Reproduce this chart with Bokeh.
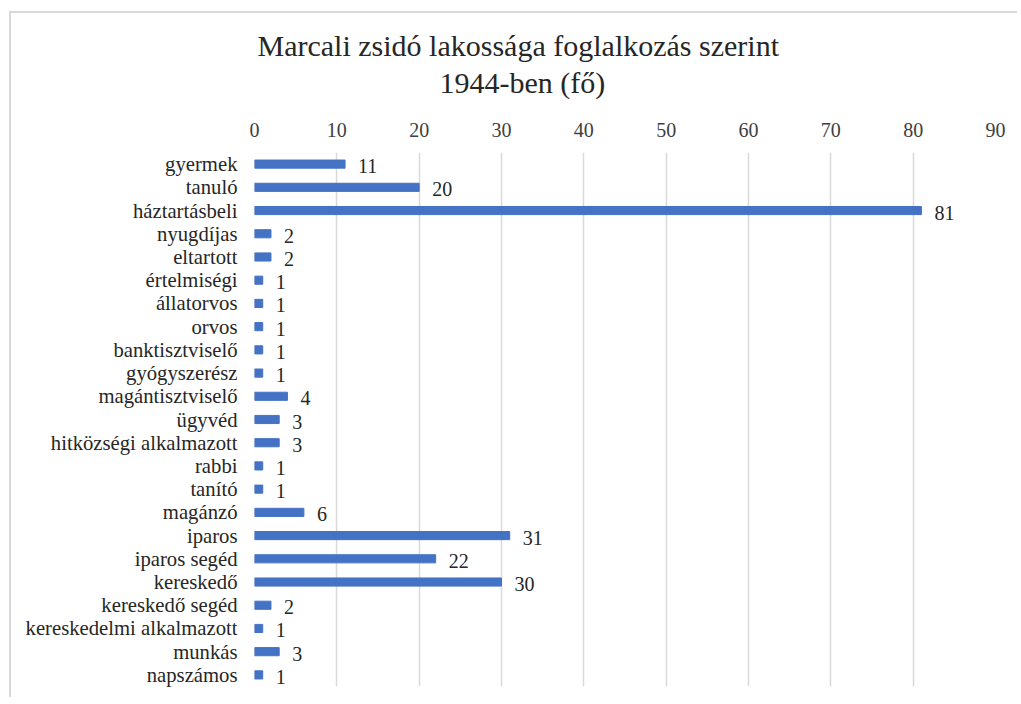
from bokeh.plotting import figure
from bokeh.models import ColumnDataSource, LabelSet, FactorRange, FixedTicker, Title
from bokeh.embed import file_html
from bokeh.resources import INLINE

categories = ["gyermek", "tanuló", "háztartásbeli", "nyugdíjas", "eltartott", "értelmiségi",
              "állatorvos", "orvos", "banktisztviselő", "gyógyszerész", "magántisztviselő",
              "ügyvéd", "hitközségi alkalmazott", "rabbi", "tanító", "magánzó", "iparos",
              "iparos segéd", "kereskedő", "kereskedő segéd", "kereskedelmi alkalmazott",
              "munkás", "napszámos"]
values = [11, 20, 81, 2, 2, 1, 1, 1, 1, 1, 4, 3, 3, 1, 1, 6, 31, 22, 30, 2, 1, 3, 1]
x_ticks = [0, 10, 20, 30, 40, 50, 60, 70, 80, 90]
title_lines = ["Marcali zsidó lakossága foglalkozás szerint", "1944-ben (fő)"]

FONT = "Liberation Serif"

source = ColumnDataSource(dict(cat=categories, val=values, lab=[str(v) for v in values]))

p = figure(width=1008, height=686, output_backend="svg", toolbar_location=None,
           y_range=FactorRange(factors=list(reversed(categories)), range_padding=0),
           x_range=(0, 90), x_axis_location="above",
           min_border_left=243, min_border_right=24, min_border_top=139, min_border_bottom=13)
p.styles = {"border-top": "2px solid #d9d9d9", "border-left": "2px solid #d9d9d9",
            "margin-left": "9px", "margin-top": "11px"}
p.outline_line_color = None
p.background_fill_color = "white"
p.border_fill_color = "white"

p.hbar(y="cat", right="val", left=0, height=0.35, source=source, color="#4472C4")

labels = LabelSet(x="val", y="cat", text="lab", source=source, x_offset=13, y_offset=-2,
                  text_align="left", text_baseline="middle", text_font=FONT,
                  text_font_size="20px", text_color="#262626")
p.add_layout(labels)

xa = p.xaxis[0]
xa.ticker = FixedTicker(ticks=x_ticks)
xa.axis_line_color = None
xa.major_tick_line_color = None
xa.minor_tick_line_color = None
xa.major_tick_out = 0
xa.major_label_text_font = FONT
xa.major_label_text_font_size = "20px"
xa.major_label_text_color = "#404040"
xa.major_label_standoff = 16

ya = p.yaxis[0]
ya.axis_line_color = None
ya.major_tick_line_color = None
ya.minor_tick_line_color = None
ya.major_tick_out = 0
ya.major_label_text_font = FONT
ya.major_label_text_font_size = "20.7px"
ya.major_label_text_color = "#262626"
ya.major_label_standoff = 17

p.xgrid.grid_line_color = "#d9d9d9"
p.xgrid.grid_line_width = 1.5
p.xgrid.ticker = FixedTicker(ticks=x_ticks)
p.ygrid.grid_line_color = None

for txt, off, so in [(title_lines[1], 185, 42), (title_lines[0], 3, -39)]:
    p.add_layout(Title(text=txt, align="left", offset=off, text_font=FONT,
                       text_font_size="30px", text_font_style="normal",
                       text_color="#262626", standoff=so), "above")

open("out.html", "w").write(file_html(p, INLINE))
